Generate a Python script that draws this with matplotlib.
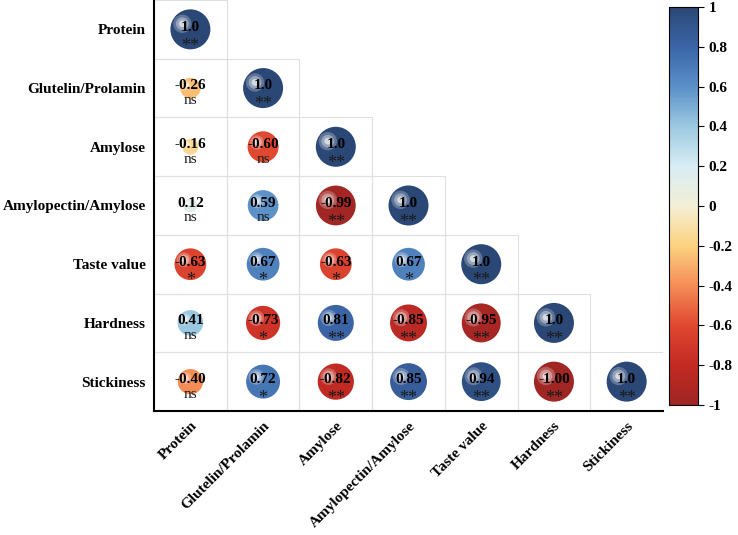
import numpy as np
import matplotlib
matplotlib.use('Agg')
import matplotlib.pyplot as plt
from matplotlib.colors import LinearSegmentedColormap, Normalize
from matplotlib.patches import Rectangle
from matplotlib import transforms

plt.rcParams['font.family'] = ['Liberation Serif', 'DejaVu Serif']

labels = ['Protein', 'Glutelin/Prolamin', 'Amylose', 'Amylopectin/Amylose',
          'Taste value', 'Hardness', 'Stickiness']

# lower triangle, row by row
r_protein = [1.0]
r_glut = [-0.26, 1.0]
r_amylose = [-0.16, -0.60, 1.0]
r_ratio = [0.12, 0.59, -0.99, 1.0]
r_taste = [-0.63, 0.67, -0.63, 0.67, 1.0]
r_hard = [0.41, -0.73, 0.81, -0.85, -0.95, 1.0]
r_stick = [-0.40, 0.72, -0.82, 0.85, 0.94, -1.00, 1.0]

s_protein = ['**']
s_glut = ['ns', '**']
s_amylose = ['ns', 'ns', '**']
s_ratio = ['ns', 'ns', '**', '**']
s_taste = ['*', '*', '*', '*', '**']
s_hard = ['ns', '*', '**', '**', '**', '**']
s_stick = ['ns', '*', '**', '**', '**', '**', '**']

rows = [r_protein, r_glut, r_amylose, r_ratio, r_taste, r_hard, r_stick]
sigs = [s_protein, s_glut, s_amylose, s_ratio, s_taste, s_hard, s_stick]

cmap = LinearSegmentedColormap.from_list('corr', [
    (0.0, '#a02624'), (0.1, '#c32a22'), (0.2, '#e04830'), (0.3, '#f58e58'),
    (0.4, '#fcd27f'), (0.5, '#f3efd6'), (0.6, '#d8edf3'), (0.7, '#9dc9e1'),
    (0.8, '#5a90c8'), (0.9, '#3b66a8'), (1.0, '#2a4775')])
norm = Normalize(-1, 1)

fig = plt.figure(figsize=(7.38, 5.35), dpi=100)
ax = fig.add_axes([0.2087, 0.2318, 0.6897, 0.7682])
cax = fig.add_axes([0.9065, 0.243, 0.0393, 0.744])

n = len(labels)
ax.set_xlim(-0.5, n - 0.5)
ax.set_ylim(n - 0.5, -0.5)

full_d = 28.8  # circle diameter in points for |r| = 1
for i, (vals, ss) in enumerate(zip(rows, sigs)):
    for j, (v, s) in enumerate(zip(vals, ss)):
        ax.add_patch(Rectangle((j - 0.5, i - 0.5), 1, 1, fill=False,
                               edgecolor='#e0e0e0', lw=0.8, zorder=1))
        d = full_d * np.sqrt(abs(v))
        col = cmap(norm(v))
        ax.scatter(j, i, s=d ** 2, color=col, edgecolors='none', zorder=2)
        # glossy highlight
        off = transforms.offset_copy(ax.transData, fig=fig,
                                     x=-0.2 * d, y=0.14 * d, units='points')
        for frac, a in [(0.46, 0.25), (0.32, 0.35), (0.17, 0.6)]:
            ax.scatter(j, i, s=(frac * d) ** 2, color='white', alpha=a,
                       edgecolors='none', transform=off, zorder=3)
        txt = f'{v:.1f}' if i == j else f'{v:.2f}'
        ax.text(j, i, txt, transform=transforms.offset_copy(ax.transData, fig=fig, y=1.5, units='points'),
                ha='center', va='center', fontsize=11, fontweight='bold', color='black', zorder=4)
        dy = -9 if s == 'ns' else -12
        ax.text(j, i, s, transform=transforms.offset_copy(ax.transData, fig=fig, y=dy, units='points'),
                ha='center', va='center', fontsize=11 if s == 'ns' else 13,
                color='#1a1a1a', zorder=4)

ax.set_yticks(range(n))
ax.set_yticklabels(labels, fontsize=11, fontweight='bold')
ax.set_xticks(range(n))
ax.set_xticklabels(labels, fontsize=11, fontweight='bold', rotation=45,
                   ha='right', va='top', rotation_mode='anchor')
shift = transforms.ScaledTranslation(16 / 72, 0, fig.dpi_scale_trans)
for lab in ax.get_xticklabels():
    lab.set_transform(lab.get_transform() + shift)
ax.tick_params(axis='both', length=0)
ax.tick_params(axis='y', pad=6)
ax.tick_params(axis='x', pad=6)
for side in ['top', 'right']:
    ax.spines[side].set_visible(False)
for side in ['left', 'bottom']:
    ax.spines[side].set_linewidth(1.5)

sm = plt.cm.ScalarMappable(norm=norm, cmap=cmap)
cb = fig.colorbar(sm, cax=cax)
ticks = np.round(np.arange(-1, 1.01, 0.2), 1)
cb.set_ticks(ticks)
cb.set_ticklabels(['-1' if t == -1 else '1' if t == 1 else '0' if t == 0 else f'{t:g}' for t in ticks])
for t in cb.ax.get_yticklabels():
    t.set_fontweight('bold')
    t.set_fontsize(11)
cb.ax.tick_params(length=4, width=0.8)
cb.outline.set_linewidth(0.8)

fig.savefig('out.png', dpi=100)
